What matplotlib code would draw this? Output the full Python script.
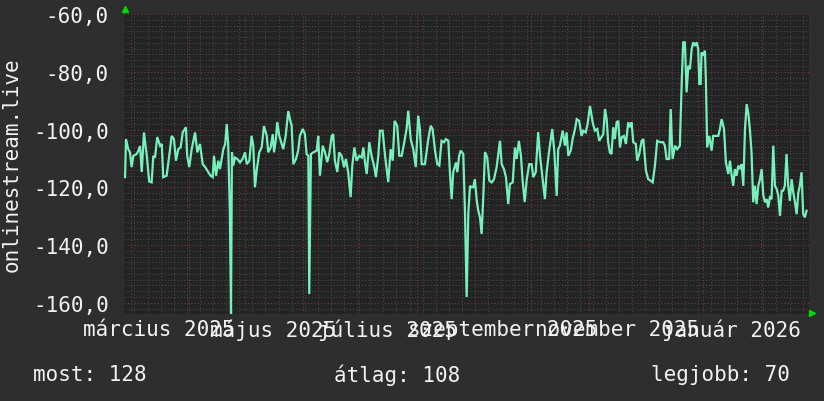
import numpy as np
import pandas as pd
import matplotlib
matplotlib.use("Agg")
import matplotlib.pyplot as plt
import matplotlib.dates as mdates
from matplotlib.ticker import MultipleLocator, FuncFormatter
from matplotlib.transforms import blended_transform_factory

# napok 2025-02-25 óta, és a mért értékek
start = pd.Timestamp("2025-02-25")
days = [
    1.0, 1.5, 2.7, 3.6, 4.5, 5.4, 7.2, 8.1, 9.0, 9.9, 11.1, 12.6, 13.9, 15.2, 16.1, 17.0,
    18.2, 19.7, 20.6, 21.4, 23.2, 24.6, 25.9, 27.1, 28.2, 29.4, 30.7, 31.8, 33.5, 34.2,
    35.3, 36.6, 38.4, 39.6, 41.0, 42.5, 43.9, 45.5, 46.7, 47.8, 48.5, 49.6, 50.8, 51.7,
    52.6, 53.5, 54.5, 55.3, 56.1, 57.0, 57.6, 58.1, 58.8, 59.7, 61.0, 62.4, 63.8, 65.1,
    66.0, 67.4, 68.6, 69.5, 70.4, 71.3, 72.7, 74.0, 75.2, 76.7, 77.5, 78.8, 79.9, 80.6,
    81.6, 82.3, 83.4, 84.7, 85.5, 86.8, 88.2, 89.1, 90.0, 90.9, 92.3, 93.5, 94.4, 95.9,
    97.1, 98.0, 98.9, 99.4, 100.3, 101.6, 103.4, 104.2,
    105.1, 106.6, 107.8, 109.0, 110.1, 111.4, 112.2, 113.1, 114.4, 115.4, 116.7, 118.0,
    119.0, 120.2, 121.5, 122.4, 123.5, 124.7, 126.1, 127.4, 128.3, 129.2, 130.1, 131.5,
    132.7, 134.0, 135.0, 136.3, 137.2, 138.6, 139.9, 141.6, 142.9, 144.0, 145.0, 146.4,
    147.5, 148.8, 150.0, 151.4, 152.3, 153.6, 155.0, 156.3, 157.6, 158.5, 159.5, 161.2,
    163.0, 164.3, 165.3, 166.6, 167.8, 168.9, 170.1, 171.4, 172.4, 173.7, 174.6, 175.5,
    176.3, 177.8, 178.5, 179.5, 180.3, 181.7, 182.6, 183.5, 184.4, 185.3, 186.2, 187.0,
    187.9, 188.8, 189.7, 190.6, 191.5, 192.4, 193.3, 194.5, 195.6, 196.9, 198.1, 199.5,
    201.3, 202.2, 203.4, 204.5, 205.7, 206.6, 208.1, 209.3, 210.2, 211.4, 212.5, 213.4,
    214.5, 215.6, 216.9, 218.2, 219.1, 220.4, 221.7, 222.7, 224.1, 225.3, 226.2, 227.6,
    229.2, 230.3, 231.6, 232.4, 233.3, 234.8, 236.0, 236.9, 237.8, 239.1, 240.1, 241.4,
    242.3, 243.6, 244.9, 245.8, 247.1, 248.1, 249.4, 250.8, 252.0, 253.3, 254.3,
    256.5, 257.4, 258.3, 259.1, 260.0, 260.9, 261.8, 262.7, 263.6, 264.5, 265.4, 266.3,
    267.5, 268.6, 269.8, 270.7, 271.6, 272.5, 273.9, 274.6, 275.7, 277.0, 277.9, 279.3,
    280.5, 281.8, 282.9, 284.1, 285.3, 286.8, 288.5, 289.4, 290.3, 291.7, 292.5, 293.5,
    294.8, 296.0, 297.4, 298.4, 299.2, 300.1, 301.0, 301.9, 302.8, 303.7, 304.6, 305.5,
    306.4, 307.2, 307.8, 308.5, 309.0, 309.9, 310.8, 311.3, 312.0, 313.1, 314.4, 315.2,
    316.7, 317.9, 318.8, 319.7, 321.0, 322.0, 323.3, 324.2, 325.1, 325.9, 326.8, 327.7,
    328.6, 329.5, 330.4, 331.3, 332.2, 333.1, 334.0, 334.8, 335.7, 336.6, 337.5, 338.4,
    339.3, 340.2, 341.1, 342.0, 342.9, 343.8, 344.6, 345.5, 346.4, 347.3, 348.2, 349.1,
    350.0, 350.9, 351.8, 352.6, 353.5, 354.4, 355.3, 356.2, 357.1, 358.0, 358.9, 359.8,
    360.7, 361.5, 362.4, 363.3, 364.2, 365.1,
]
values = [
    -116.5, -103.3, -106.8, -107.9, -113.0, -109.1, -108.5, -107.3, -105.7, -114.7, -101.0,
    -109.1, -118.0, -118.3, -109.1, -109.7, -102.6, -105.6, -105.0, -116.5, -116.0, -109.1,
    -102.2, -103.3, -110.8, -106.8, -106.2, -101.0, -99.2, -109.1, -113.0, -106.8, -101.0,
    -107.9, -105.0, -112.0, -113.1, -114.8, -116.0, -116.5, -109.1, -116.0, -110.8, -113.7,
    -110.2, -106.8, -105.0, -98.1, -105.0, -129.0, -164.0, -107.9, -112.5, -109.7, -110.2,
    -111.4, -110.2, -107.9, -112.0, -110.8, -102.2, -105.6, -120.0, -114.3, -107.9, -106.2,
    -98.8, -102.2, -107.9, -106.2, -101.6, -107.9, -103.3, -97.4, -102.2, -105.0, -106.8,
    -102.2, -93.6, -96.4, -98.7, -112.0, -110.2, -107.3, -102.2, -99.8, -101.6, -108.5,
    -109.1, -157.0, -108.5, -107.9, -107.3, -102.2,
    -116.0, -105.6, -107.9, -111.3, -108.5, -102.2, -101.6, -110.8, -114.7, -107.9, -109.1,
    -113.1, -110.2, -114.8, -123.4, -112.5, -106.2, -110.8, -109.1, -109.7, -106.2, -111.4,
    -115.4, -104.4, -109.1, -112.5, -116.5, -109.1, -100.4, -100.4, -109.1, -118.2, -106.8,
    -110.8, -97.0, -98.7, -109.1, -109.1, -105.0, -99.8, -93.5, -103.3, -106.8, -113.0,
    -95.2, -99.8, -112.0, -112.0, -103.3, -98.7, -99.8, -107.3, -112.0, -112.5, -103.9,
    -104.4, -103.3, -103.9, -115.4, -124.1, -114.8, -111.4, -114.8, -109.1, -107.3, -108.5,
    -128.6, -158.0, -128.7, -119.5, -120.0, -120.0, -117.2, -124.1, -128.1, -130.4, -136.2,
    -122.9, -107.8, -109.7, -117.7, -118.3, -117.2, -113.1, -103.9, -112.0, -113.7, -116.5,
    -125.8, -118.9, -118.3, -106.2, -110.2, -103.9, -109.1, -117.7, -125.1, -117.2, -112.0,
    -112.0, -116.5, -114.8, -100.9, -109.1, -117.2, -124.1, -114.8, -107.3, -99.8, -107.3,
    -123.0, -106.8, -105.6, -100.4, -105.6, -101.0, -109.1, -107.3, -103.3, -99.8, -96.4,
    -97.0, -102.2, -100.4, -101.0, -98.1, -91.8, -97.5, -100.4, -99.8, -103.9,
    -101.6, -92.9, -96.4, -104.4, -107.9, -108.5, -99.2, -103.3, -97.5, -97.0, -106.2,
    -102.7, -102.2, -105.0, -97.5, -99.2, -97.5, -104.4, -105.0, -110.8, -108.5, -103.9,
    -103.3, -114.3, -117.2, -117.7, -118.3, -112.5, -103.9, -104.4, -104.4, -105.6, -110.2,
    -110.2, -92.9, -110.2, -105.6, -106.8, -105.6, -83.7, -69.8, -69.8, -87.1, -77.9,
    -79.1, -72.1, -69.8, -71.0, -69.8, -72.1, -84.2, -84.2, -73.3, -74.4, -72.7, -82.5,
    -106.2, -102.2, -107.3, -102.2, -102.2, -102.2, -99.8, -96.4, -99.8, -111.4, -115.4,
    -110.8, -116.0, -119.5, -113.7, -116.0, -112.5, -113.7, -112.0, -119.5, -99.8, -91.2,
    -94.6, -99.8, -107.9, -125.2, -119.5, -125.8, -119.5, -117.2, -113.7, -122.9, -125.2,
    -124.1, -127.0, -123.5, -124.1, -105.6, -119.5, -120.6, -122.9, -129.9, -121.2, -121.2,
    -119.5, -108.5, -119.5, -124.7, -117.2, -121.8, -125.2, -129.3, -121.8, -119.5, -114.8,
    -129.3, -130.4, -128.1,
]

# tengelyfeliratok (kéthavonta, a hónap közepén)
label_months = ["2025-03-01", "2025-05-01", "2025-07-01", "2025-09-01", "2025-11-01", "2026-01-01"]
label_texts = ["március 2025", "május 2025", "július 2025", "szeptember 2025", "november 2025", "január 2026"]

# összesítő
legend_items = [("most", 128), ("átlag", 108), ("legjobb", 70)]
series_name = "onlinestream.live"

BG = "#2e2e2e"
PLOT_BG = "#232323"
LINE = "#77f0bb"
FG = "#f2f2f2"
FONT = "DejaVu Sans Mono"
FS = 15

plt.rcParams["font.family"] = [FONT, "DejaVu Sans"]

fig = plt.figure(figsize=(8.24, 4.02), dpi=100, facecolor=BG)
ax = fig.add_axes([124 / 824, 87 / 402, 685 / 824, 300.5 / 402])
ax.set_facecolor(PLOT_BG)

x = [start + pd.Timedelta(days=d) for d in days]
ax.plot(x, values, color=LINE, lw=1.6, zorder=3, solid_joinstyle="miter")

ax.set_xlim(start + pd.Timedelta(days=0.43), start + pd.Timedelta(days=366.4))
ax.set_ylim(-163.9, -59.8)

# rácsozat
ax.xaxis.set_major_locator(mdates.MonthLocator())
ax.xaxis.set_minor_locator(mdates.WeekdayLocator(byweekday=mdates.MO))
ax.xaxis.set_major_formatter(FuncFormatter(lambda v, p: ""))
ax.yaxis.set_major_locator(MultipleLocator(20))
ax.yaxis.set_minor_locator(MultipleLocator(2))
ax.yaxis.set_major_formatter(FuncFormatter(lambda v, p: f"{v:.1f}".replace(".", ",")))
ax.grid(which="minor", color="#4a4a4a", ls=(0, (1, 2)), lw=0.75)
ax.grid(which="major", color="#7e3636", ls=(0, (1, 2)), lw=0.8)
ax.set_axisbelow(True)
ax.tick_params(which="both", length=0)
ax.tick_params(axis="y", colors=FG, labelsize=FS, pad=11)
for s in ax.spines.values():
    s.set_visible(False)

trans = blended_transform_factory(ax.transData, ax.transAxes)
for m, t in zip(label_months, label_texts):
    pos = pd.Timestamp(m) + pd.Timedelta(days=15)
    ax.text(pos, -0.05, t, transform=trans, ha="center", va="center",
            color=FG, fontsize=FS, clip_on=False)

# zöld nyilak
ax.plot([0.001], [1.014], marker="^", color="#00dd00", ms=5, transform=ax.transAxes, clip_on=False)
ax.plot([1.005], [0.004], marker=">", color="#00dd00", ms=5, transform=ax.transAxes, clip_on=False)

fig.text(12 / 824, 0.5896, series_name, rotation=90, ha="center", va="center", color=FG, fontsize=FS)

legend_x = [33, 334, 651]
for (name, val), lx in zip(legend_items, legend_x):
    fig.text(lx / 824, 1 - 375 / 402, f"{name}: {val}", ha="left", va="center", color=FG, fontsize=FS)

fig.savefig("out.png", dpi=100, facecolor=BG)
